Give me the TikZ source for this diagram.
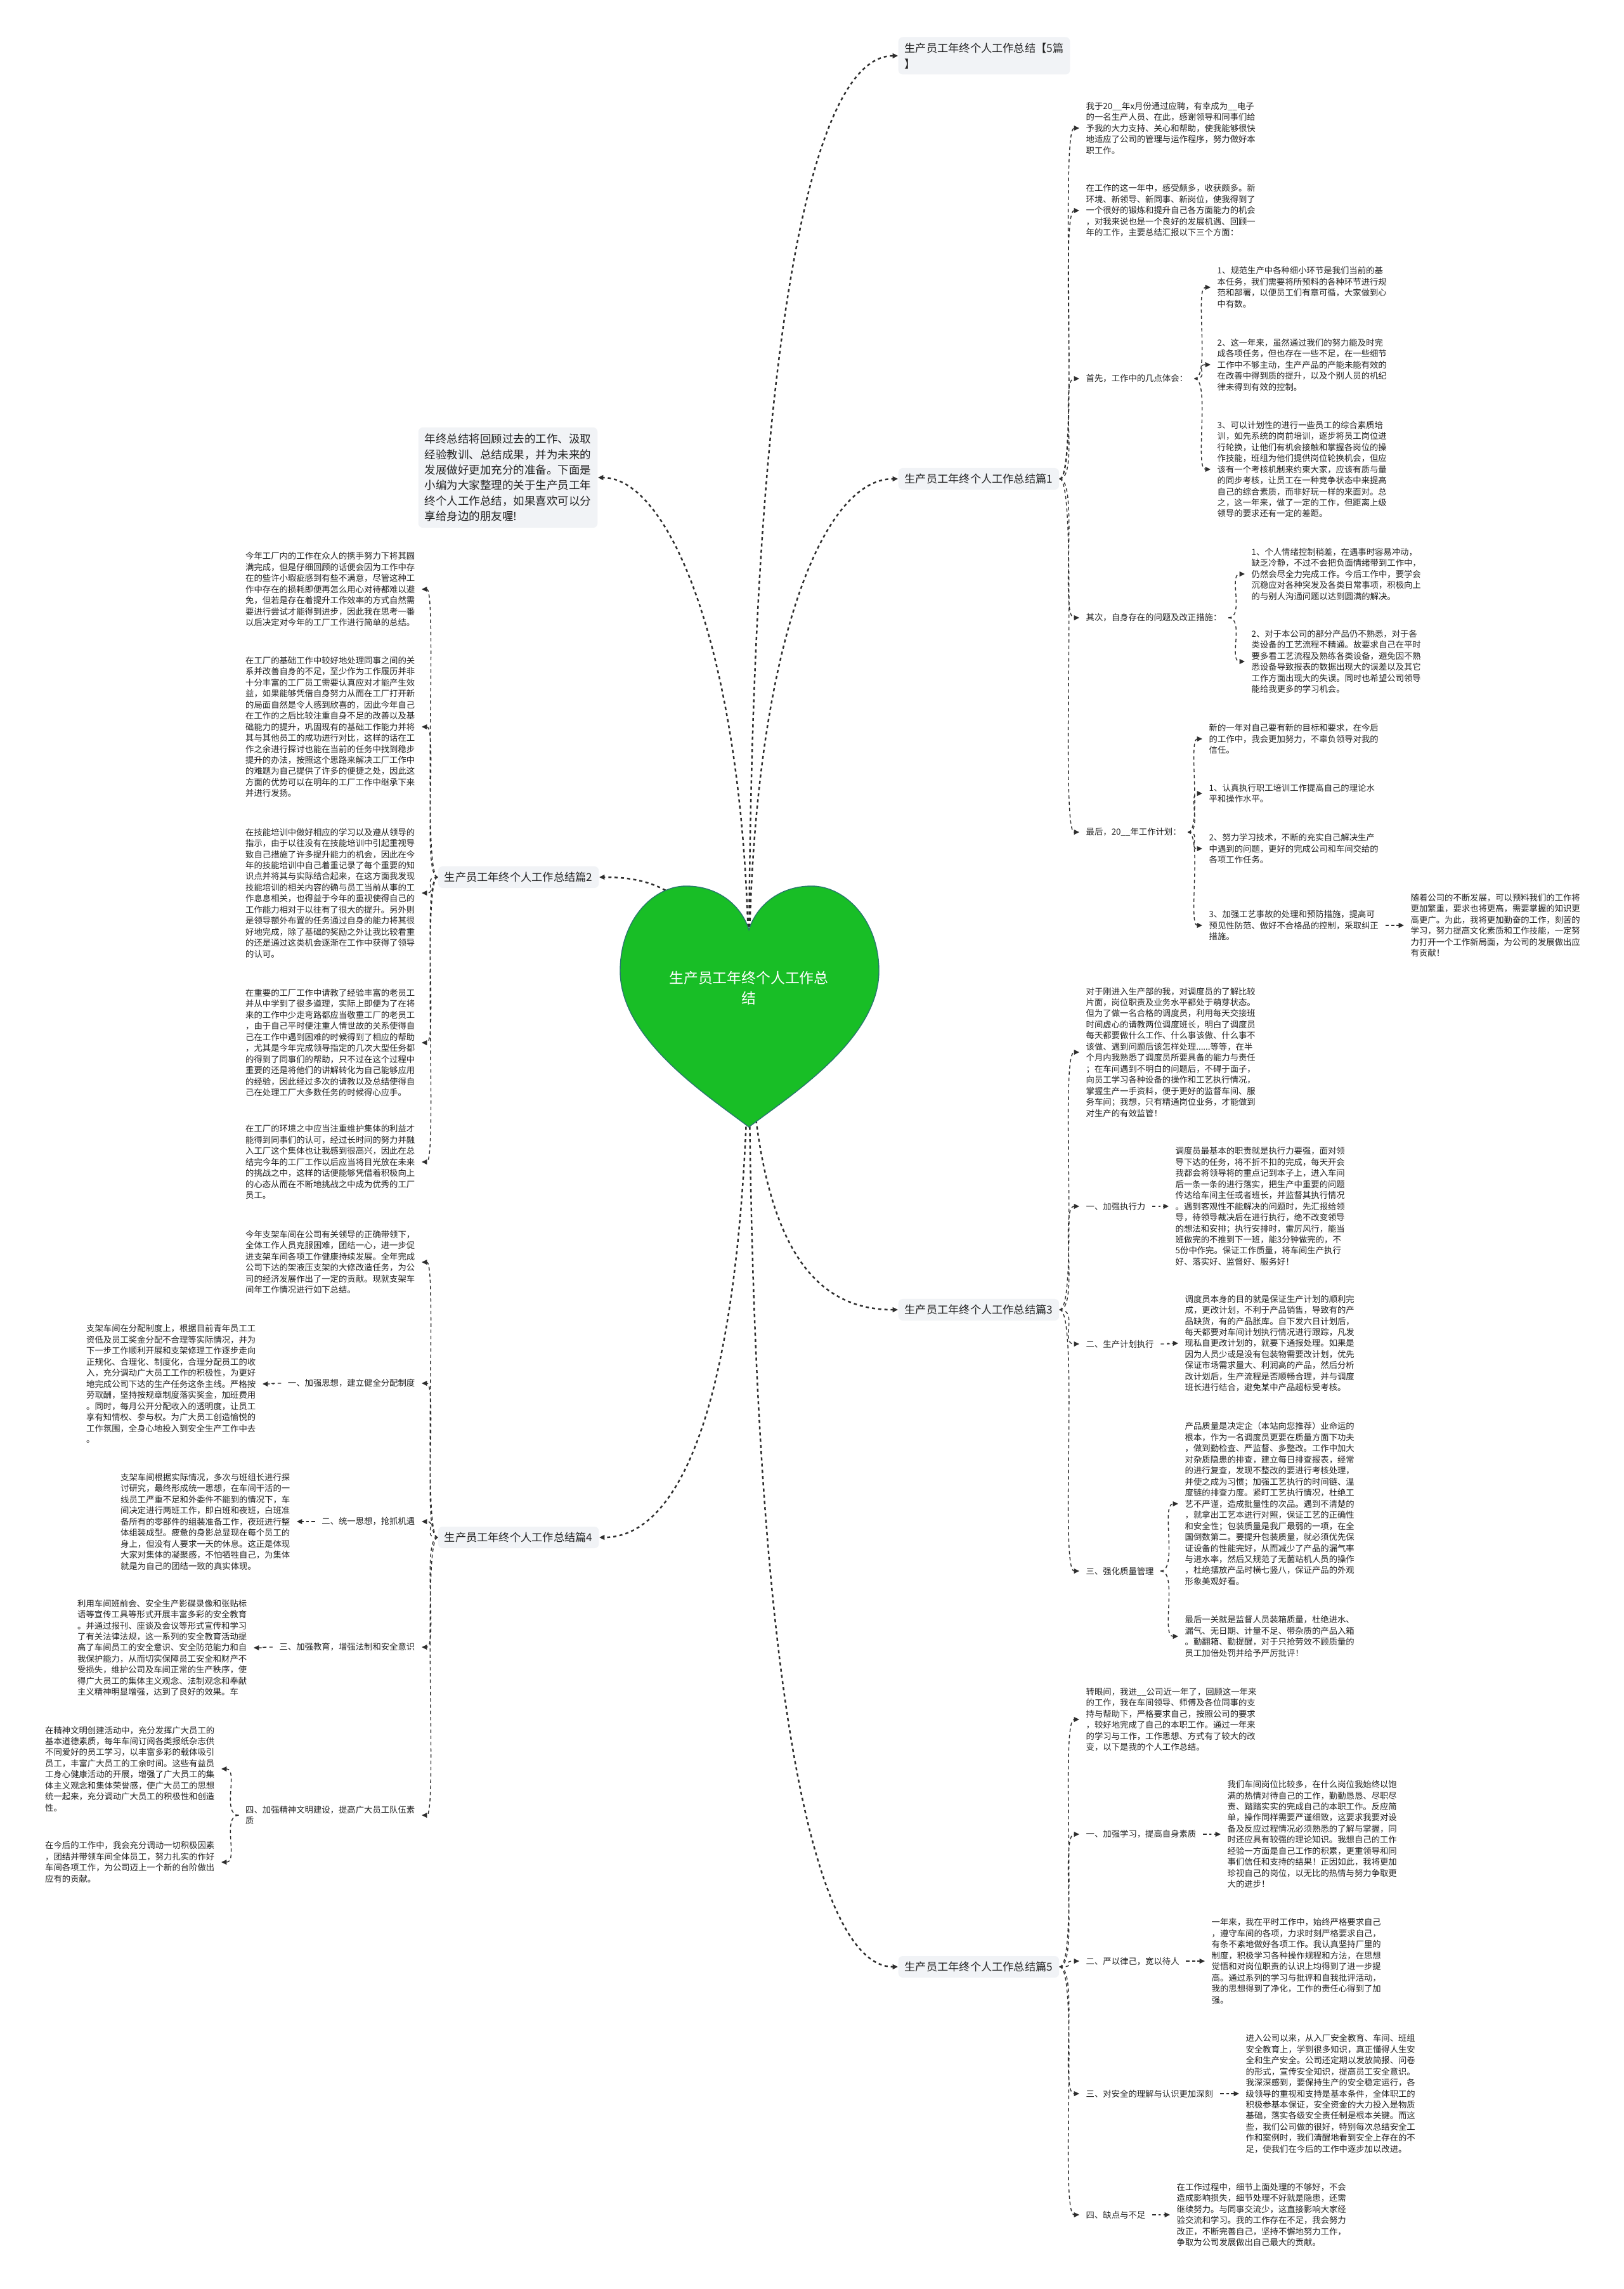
\documentclass[tikz,border=0pt]{standalone}
\usepackage{fontspec}
\newfontfamily\cjk{Noto Sans CJK SC}
\usetikzlibrary{arrows.meta}
\definecolor{inkgray}{RGB}{34,34,34}
\definecolor{linkgray}{RGB}{45,45,45}
\definecolor{labelgray}{RGB}{241,243,246}
\definecolor{heartgreen}{RGB}{24,190,38}
\definecolor{heartedge}{RGB}{40,120,110}

\begin{document}
\begin{tikzpicture}[
  mmleaf/.style={font=\cjk\fontsize{3.8}{4.97}\selectfont, text=inkgray, align=left, inner xsep=0.10cm, inner ysep=0.02cm},
  mmbranch/.style={font=\cjk\fontsize{4.9}{7.1}\selectfont, text=inkgray, fill=labelgray, rounded corners=2pt, align=left, inner xsep=0.10cm, inner ysep=0.09cm},
  mmintro/.style={mmbranch, font=\cjk\fontsize{4.98}{6.94}\selectfont, inner ysep=0.10cm},
  mmlink/.style={draw=linkgray, line width=0.4pt, dash pattern=on 1.5pt off 1.3pt, -{Triangle[length=2.4pt, width=2.2pt]}},
  mmroot/.style={mmlink, line width=0.7pt, dash pattern=on 1.4pt off 1.4pt}
]
\path[fill=white, use as bounding box] (0,0) rectangle (25.60,-36.09);

%--------------------------------------------------------------
% 分支标签
%--------------------------------------------------------------
\node[mmbranch, anchor=west] (b0) at (14.16,-0.88) {生产员工年终个人工作总结【5篇\\】};
\node[mmbranch, anchor=west] (b1) at (14.16,-7.55) {生产员工年终个人工作总结篇1};
\node[mmbranch, anchor=east] (b2) at (9.45,-13.83) {生产员工年终个人工作总结篇2};
\node[mmbranch, anchor=west] (b3) at (14.16,-20.65) {生产员工年终个人工作总结篇3};
\node[mmbranch, anchor=east] (b4) at (9.45,-24.24) {生产员工年终个人工作总结篇4};
\node[mmbranch, anchor=west] (b5) at (14.16,-31.01) {生产员工年终个人工作总结篇5};

\node[mmintro, anchor=east] (intro) at (9.43,-7.53)
  {年终总结将回顾过去的工作、汲取\\经验教训、总结成果，并为未来的\\发展做好更加充分的准备。下面是\\小编为大家整理的关于生产员工年\\终个人工作总结，如果喜欢可以分\\享给身边的朋友喔!};

%--------------------------------------------------------------
% 篇1
%--------------------------------------------------------------
\node[mmleaf, anchor=west] (p1a) at (17.02,-2.02)
  {我于20\_\_年x月份通过应聘，有幸成为\_\_电子\\的一名生产人员、在此，感谢领导和同事们给\\予我的大力支持、关心和帮助，使我能够很快\\地适应了公司的管理与运作程序，努力做好本\\职工作。};
\node[mmleaf, anchor=west] (p1b) at (17.02,-3.32)
  {在工作的这一年中，感受颇多，收获颇多。新\\环境、新领导、新同事、新岗位，使我得到了\\一个很好的锻炼和提升自己各方面能力的机会\\，对我来说也是一个良好的发展机遇、回顾一\\年的工作，主要总结汇报以下三个方面：};
\node[mmleaf, anchor=west] (p1c) at (17.02,-5.97) {首先，工作中的几点体会：};
\node[mmleaf, anchor=west] (p1c1) at (19.09,-4.53)
  {1、规范生产中各种细小环节是我们当前的基\\本任务，我们需要将所预料的各种环节进行规\\范和部署，以便员工们有章可循，大家做到心\\中有数。};
\node[mmleaf, anchor=west] (p1c2) at (19.09,-5.75)
  {2、这一年来，虽然通过我们的努力能及时完\\成各项任务，但也存在一些不足，在一些细节\\工作中不够主动，生产产品的产能未能有效的\\在改善中得到质的提升，以及个别人员的机纪\\律未得到有效的控制。};
\node[mmleaf, anchor=west] (p1c3) at (19.09,-7.40)
  {3、可以计划性的进行一些员工的综合素质培\\训，如先系统的岗前培训，逐步将员工岗位进\\行轮换，让他们有机会接触和掌握各岗位的操\\作技能，班组为他们提供岗位轮换机会，但应\\该有一个考核机制来约束大家，应该有质与量\\的同步考核，让员工在一种竞争状态中来提高\\自己的综合素质，而非好玩一样的来面对。总\\之，这一年来，做了一定的工作，但距离上级\\领导的要求还有一定的差距。};
\node[mmleaf, anchor=west] (p1d) at (17.02,-9.74) {其次，自身存在的问题及改正措施：};
\node[mmleaf, anchor=west] (p1d1) at (19.63,-9.05)
  {1、个人情绪控制稍差，在遇事时容易冲动，\\缺乏冷静，不过不会把负面情绪带到工作中，\\仍然会尽全力完成工作。今后工作中，要学会\\沉稳应对各种突发及各类日常事项，积极向上\\的与别人沟通问题以达到圆满的解决。};
\node[mmleaf, anchor=west] (p1d2) at (19.63,-10.43)
  {2、对于本公司的部分产品仍不熟悉，对于各\\类设备的工艺流程不精通。故要求自己在平时\\要多看工艺流程及熟练各类设备，避免因不熟\\悉设备导致报表的数据出现大的误差以及其它\\工作方面出现大的失误。同时也希望公司领导\\能给我更多的学习机会。};
\node[mmleaf, anchor=west] (p1e) at (17.02,-13.12) {最后，20\_\_年工作计划：};
\node[mmleaf, anchor=west] (p1e1) at (18.96,-11.65)
  {新的一年对自己要有新的目标和要求，在今后\\的工作中，我会更加努力，不辜负领导对我的\\信任。};
\node[mmleaf, anchor=west] (p1e2) at (18.96,-12.51)
  {1、认真执行职工培训工作提高自己的理论水\\平和操作水平。};
\node[mmleaf, anchor=west] (p1e3) at (18.96,-13.38)
  {2、努力学习技术，不断的充实自己解决生产\\中遇到的问题，更好的完成公司和车间交给的\\各项工作任务。};
\node[mmleaf, anchor=west] (p1e4) at (18.96,-14.59)
  {3、加强工艺事故的处理和预防措施，提高可\\预见性防范、做好不合格品的控制，采取纠正\\措施。};
\node[mmleaf, anchor=west] (p1e4a) at (22.14,-14.59)
  {随着公司的不断发展，可以预料我们的工作将\\更加繁重，要求也将更高，需要掌握的知识更\\高更广。为此，我将更加勤奋的工作，刻苦的\\学习，努力提高文化素质和工作技能，一定努\\力打开一个工作新局面，为公司的发展做出应\\有贡献！};

%--------------------------------------------------------------
% 篇2
%--------------------------------------------------------------
\node[mmleaf, anchor=east] (p2a) at (6.65,-9.29)
  {今年工厂内的工作在众人的携手努力下将其圆\\满完成，但是仔细回顾的话便会因为工作中存\\在的些许小瑕疵感到有些不满意，尽管这种工\\作中存在的损耗即便再怎么用心对待都难以避\\免，但若是存在着提升工作效率的方式自然需\\要进行尝试才能得到进步，因此我在思考一番\\以后决定对今年的工厂工作进行简单的总结。};
\node[mmleaf, anchor=east] (p2b) at (6.65,-11.46)
  {在工厂的基础工作中较好地处理同事之间的关\\系并改善自身的不足，至少作为工作履历并非\\十分丰富的工厂员工需要认真应对才能产生效\\益，如果能够凭借自身努力从而在工厂打开新\\的局面自然是令人感到欣喜的，因此今年自己\\在工作的之后比较注重自身不足的改善以及基\\础能力的提升，巩固现有的基础工作能力并将\\其与其他员工的成功进行对比，这样的话在工\\作之余进行探讨也能在当前的任务中找到稳步\\提升的办法，按照这个思路来解决工厂工作中\\的难题为自己提供了许多的便捷之处，因此这\\方面的优势可以在明年的工厂工作中继承下来\\并进行发扬。};
\node[mmleaf, anchor=east] (p2c) at (6.65,-14.08)
  {在技能培训中做好相应的学习以及遵从领导的\\指示，由于以往没有在技能培训中引起重视导\\致自己措施了许多提升能力的机会，因此在今\\年的技能培训中自己着重记录了每个重要的知\\识点并将其与实际结合起来，在这方面我发现\\技能培训的相关内容的确与员工当前从事的工\\作息息相关，也得益于今年的重视使得自己的\\工作能力相对于以往有了很大的提升。另外则\\是领导额外布置的任务通过自身的能力将其很\\好地完成，除了基础的奖励之外让我比较看重\\的还是通过这类机会逐渐在工作中获得了领导\\的认可。};
\node[mmleaf, anchor=east] (p2d) at (6.65,-16.44)
  {在重要的工厂工作中请教了经验丰富的老员工\\并从中学到了很多道理，实际上即便为了在将\\来的工作中少走弯路都应当敬重工厂的老员工\\，由于自己平时便注重人情世故的关系使得自\\己在工作中遇到困难的时候得到了相应的帮助\\，尤其是今年完成领导指定的几次大型任务都\\的得到了同事们的帮助，只不过在这个过程中\\重要的还是将他们的讲解转化为自己能够应用\\的经验，因此经过多次的请教以及总结使得自\\己在处理工厂大多数任务的时候得心应手。};
\node[mmleaf, anchor=east] (p2e) at (6.65,-18.32)
  {在工厂的环境之中应当注重维护集体的利益才\\能得到同事们的认可，经过长时间的努力并融\\入工厂这个集体也让我感到很高兴，因此在总\\结完今年的工厂工作以后应当将目光放在未来\\的挑战之中，这样的话便能够凭借着积极向上\\的心态从而在不断地挑战之中成为优秀的工厂\\员工。};

%--------------------------------------------------------------
% 篇3
%--------------------------------------------------------------
\node[mmleaf, anchor=west] (p3a) at (17.02,-16.59)
  {对于刚进入生产部的我，对调度员的了解比较\\片面，岗位职责及业务水平都处于萌芽状态。\\但为了做一名合格的调度员，利用每天交接班\\时间虚心的请教两位调度班长，明白了调度员\\每天都要做什么工作、什么事该做、什么事不\\该做、遇到问题后该怎样处理......等等，在半\\个月内我熟悉了调度员所要具备的能力与责任\\；在车间遇到不明白的问题后，不碍于面子，\\向员工学习各种设备的操作和工艺执行情况，\\掌握生产一手资料，便于更好的监督车间、服\\务车间；我想，只有精通岗位业务，才能做到\\对生产的有效监管！};
\node[mmleaf, anchor=west] (p3b) at (17.02,-19.02) {一、加强执行力};
\node[mmleaf, anchor=west] (p3b1) at (18.43,-19.02)
  {调度员最基本的职责就是执行力要强，面对领\\导下达的任务，将不折不扣的完成，每天开会\\我都会将领导将的重点记到本子上，进入车间\\后一条一条的进行落实，把生产中重要的问题\\传达给车间主任或者班长，并监督其执行情况\\。遇到客观性不能解决的问题时，先汇报给领\\导，待领导裁决后在进行执行，绝不改变领导\\的想法和安排；执行安排时，雷厉风行，能当\\班做完的不推到下一班，能3分钟做完的，不\\5份中作完。保证工作质量，将车间生产执行\\好、落实好、监督好、服务好！};
\node[mmleaf, anchor=west] (p3c) at (17.02,-21.19) {二、生产计划执行};
\node[mmleaf, anchor=west] (p3c1) at (18.58,-21.18)
  {调度员本身的目的就是保证生产计划的顺利完\\成，更改计划，不利于产品销售，导致有的产\\品缺货，有的产品胀库。自下发六日计划后，\\每天都要对车间计划执行情况进行跟踪，凡发\\现私自更改计划的，就要下通报处理。如果是\\因为人员少或是没有包装物需要改计划，优先\\保证市场需求量大、利润高的产品，然后分析\\改计划后，生产流程是否顺畅合理，并与调度\\班长进行结合，避免某中产品超标受考核。};
\node[mmleaf, anchor=west] (p3d) at (17.02,-24.77) {三、强化质量管理};
\node[mmleaf, anchor=west] (p3d1) at (18.58,-23.71)
  {产品质量是决定企（本站向您推荐）业命运的\\根本，作为一名调度员更要在质量方面下功夫\\，做到勤检查、严监督、多整改。工作中加大\\对杂质隐患的排查，建立每日排查报表，经常\\的进行复查，发现不整改的要进行考核处理，\\并使之成为习惯；加强工艺执行的时间链、温\\度链的排查力度。紧盯工艺执行情况，杜绝工\\艺不严谨，造成批量性的次品。遇到不清楚的\\，就拿出工艺本进行对照，保证工艺的正确性\\和安全性；包装质量是我厂最弱的一项，在全\\国倒数第二。要提升包装质量，就必须优先保\\证设备的性能完好，从而减少了产品的漏气率\\与进水率，然后又规范了无菌站机人员的操作\\，杜绝摆放产品时横七竖八，保证产品的外观\\形象美观好看。};
\node[mmleaf, anchor=west] (p3d2) at (18.58,-25.80)
  {最后一关就是监督人员装箱质量，杜绝进水、\\漏气、无日期、计量不足、带杂质的产品入箱\\。勤翻箱、勤提醒，对于只抢劳效不顾质量的\\员工加倍处罚并给予严厉批评！};

%--------------------------------------------------------------
% 篇4
%--------------------------------------------------------------
\node[mmleaf, anchor=east] (p4a) at (6.65,-19.90)
  {今年支架车间在公司有关领导的正确带领下，\\全体工作人员克服困难，团结一心，进一步促\\进支架车间各项工作健康持续发展。全年完成\\公司下达的架液压支架的大修改造任务，为公\\司的经济发展作出了一定的贡献。现就支架车\\间年工作情况进行如下总结。};
\node[mmleaf, anchor=east] (p4b) at (6.65,-21.81) {一、加强思想，建立健全分配制度};
\node[mmleaf, anchor=east] (p4b1) at (4.14,-21.82)
  {支架车间在分配制度上，根据目前青年员工工\\资低及员工奖金分配不合理等实际情况，并为\\下一步工作顺利开展和支架修理工作逐步走向\\正规化、合理化、制度化，合理分配员工的收\\入，充分调动广大员工工作的积极性，为更好\\地完成公司下达的生产任务这条主线。严格按\\劳取酬，坚持按规章制度落实奖金，加班费用\\。同时，每月公开分配收入的透明度，让员工\\享有知情权、参与权。为广大员工创造愉悦的\\工作氛围，全身心地投入到安全生产工作中去\\。};
\node[mmleaf, anchor=east] (p4c) at (6.65,-23.99) {二、统一思想，抢抓机遇};
\node[mmleaf, anchor=east] (p4c1) at (4.68,-23.99)
  {支架车间根据实际情况，多次与班组长进行探\\讨研究，最终形成统一思想，在车间干活的一\\线员工严重不足和外委件不能到的情况下，车\\间决定进行两班工作，即白班和夜班，白班准\\备所有的零部件的组装准备工作，夜班进行整\\体组装成型。疲惫的身影总显现在每个员工的\\身上，但没有人要求一天的休息。这正是体现\\大家对集体的凝聚感，不怕牺牲自己，为集体\\就是为自己的团结一致的真实体现。};
\node[mmleaf, anchor=east] (p4d) at (6.65,-25.97) {三、加强教育，增强法制和安全意识};
\node[mmleaf, anchor=east] (p4d1) at (4.00,-25.98)
  {利用车间班前会、安全生产影碟录像和张贴标\\语等宣传工具等形式开展丰富多彩的安全教育\\。并通过报刊、座谈及会议等形式宣传和学习\\了有关法律法规，这一系列的安全教育活动提\\高了车间员工的安全意识、安全防范能力和自\\我保护能力，从而切实保障员工安全和财产不\\受损失，维护公司及车间正常的生产秩序，使\\得广大员工的集体主义观念、法制观念和奉献\\主义精神明显增强，达到了良好的效果。车};
\node[mmleaf, anchor=east] (p4e) at (6.65,-28.62) {四、加强精神文明建设，提高广大员工队伍素\\质};
\node[mmleaf, anchor=east] (p4e1) at (3.49,-27.89)
  {在精神文明创建活动中，充分发挥广大员工的\\基本道德素质，每年车间订阅各类报纸杂志供\\不同爱好的员工学习，以丰富多彩的载体吸引\\员工，丰富广大员工的工余时间。这些有益员\\工身心健康活动的开展，增强了广大员工的集\\体主义观念和集体荣誉感，使广大员工的思想\\统一起来，充分调动广大员工的积极性和创造\\性。};
\node[mmleaf, anchor=east] (p4e2) at (3.49,-29.36)
  {在今后的工作中，我会充分调动一切积极因素\\，团结并带领车间全体员工，努力扎实的作好\\车间各项工作，为公司迈上一个新的台阶做出\\应有的贡献。};

%--------------------------------------------------------------
% 篇5
%--------------------------------------------------------------
\node[mmleaf, anchor=west] (p5a) at (17.02,-27.11)
  {转眼间，我进\_\_公司近一年了，回顾这一年来\\的工作，我在车间领导、师傅及各位同事的支\\持与帮助下，严格要求自己，按照公司的要求\\，较好地完成了自己的本职工作。通过一年来\\的学习与工作，工作思想、方式有了较大的改\\变，以下是我的个人工作总结。};
\node[mmleaf, anchor=west] (p5b) at (17.02,-28.92) {一、加强学习，提高自身素质};
\node[mmleaf, anchor=west] (p5b1) at (19.25,-28.92)
  {我们车间岗位比较多，在什么岗位我始终以饱\\满的热情对待自己的工作，勤勤恳恳、尽职尽\\责、踏踏实实的完成自己的本职工作。反应简\\单，操作同样需要严谨细致，这要求我要对设\\备及反应过程情况必须熟悉的了解与掌握，同\\时还应具有较强的理论知识。我想自己的工作\\经验一方面是自己工作的积累，更重领导和同\\事们信任和支持的结果！正因如此，我将更加\\珍视自己的岗位，以无比的热情与努力争取更\\大的进步！};
\node[mmleaf, anchor=west] (p5c) at (17.02,-30.92) {二、严以律己，宽以待人};
\node[mmleaf, anchor=west] (p5c1) at (19.00,-30.92)
  {一年来，我在平时工作中，始终严格要求自己\\，遵守车间的各项，力求时刻严格要求自己，\\有条不紊地做好各项工作。我认真坚持厂里的\\制度，积极学习各种操作规程和方法，在思想\\觉悟和对岗位职责的认识上均得到了进一步提\\高。通过系列的学习与批评和自我批评活动，\\我的思想得到了净化，工作的责任心得到了加\\强。};
\node[mmleaf, anchor=west] (p5d) at (17.02,-33.01) {三、对安全的理解与认识更加深刻};
\node[mmleaf, anchor=west] (p5d1) at (19.54,-33.01)
  {进入公司以来，从入厂安全教育、车间、班组\\安全教育上，学到很多知识，真正懂得人生安\\全和生产安全。公司还定期以发放简报、问卷\\的形式，宣传安全知识，提高员工安全意识。\\我深深感到，要保持生产的安全稳定运行，各\\级领导的重视和支持是基本条件，全体职工的\\积极参基本保证，安全资金的大力投入是物质\\基础，落实各级安全责任制是根本关键。而这\\些，我们公司做的很好，特别每次总结安全工\\作和案例时，我们清醒地看到安全上存在的不\\足，使我们在今后的工作中逐步加以改进。};
\node[mmleaf, anchor=west] (p5e) at (17.02,-34.92) {四、缺点与不足};
\node[mmleaf, anchor=west] (p5e1) at (18.45,-34.92)
  {在工作过程中，细节上面处理的不够好，不会\\造成影响损失，细节处理不好就是隐患，还需\\继续努力。与同事交流少，这直接影响大家经\\验交流和学习。我的工作存在不足，我会努力\\改正，不断完善自己，坚持不懈地努力工作，\\争取为公司发展做出自己最大的贡献。};

%--------------------------------------------------------------
% 连线
%--------------------------------------------------------------
\foreach \p/\c in {b1/p1a, b1/p1b, b1/p1c, b1/p1d, b1/p1e, p1c/p1c1, p1c/p1c2, p1c/p1c3,
    p1d/p1d1, p1d/p1d2, p1e/p1e1, p1e/p1e2, p1e/p1e3, p1e/p1e4, p1e4/p1e4a,
    b3/p3a, b3/p3b, b3/p3c, b3/p3d, p3b/p3b1, p3c/p3c1, p3d/p3d1, p3d/p3d2,
    b5/p5a, b5/p5b, b5/p5c, b5/p5d, b5/p5e, p5b/p5b1, p5c/p5c1, p5d/p5d1, p5e/p5e1}{
  \draw[mmlink] (\p.east) .. controls (\c.west |- \p.east) and (\p.east |- \c.west) .. (\c.west);
}
\foreach \p/\c in {b2/p2a, b2/p2b, b2/p2c, b2/p2d, b2/p2e,
    b4/p4a, b4/p4b, b4/p4c, b4/p4d, b4/p4e, p4b/p4b1, p4c/p4c1, p4d/p4d1, p4e/p4e1, p4e/p4e2}{
  \draw[mmlink] (\p.west) .. controls (\c.east |- \p.west) and (\p.west |- \c.east) .. (\c.east);
}

% 中心到各分支
\coordinate (hub) at (11.81,-15.60);
\draw[mmroot] (hub) .. controls (11.81,-6.00) and (12.70,-0.88) .. (b0.west);
\draw[mmroot] (hub) .. controls (11.81,-10.50) and (12.90,-7.55) .. (b1.west);
\draw[mmroot] (hub) .. controls (11.81,-10.50) and (10.60,-7.53) .. (intro.east);
\draw[mmroot] (hub) .. controls (11.00,-14.20) and (10.50,-13.83) .. (b2.east);
\draw[mmroot] (hub) .. controls (11.81,-19.60) and (12.80,-20.65) .. (b3.west);
\draw[mmroot] (hub) .. controls (11.81,-22.50) and (10.60,-24.24) .. (b4.east);
\draw[mmroot] (hub) .. controls (11.81,-27.00) and (12.90,-31.01) .. (b5.west);

%--------------------------------------------------------------
% 中心主题（心形）
%--------------------------------------------------------------
\filldraw[fill=heartgreen, draw=heartedge, line width=0.4pt]
  (11.81,-17.77) .. controls (11.20,-17.30) and (9.78,-16.40) .. (9.78,-15.31)
  .. controls (9.78,-14.50) and (10.30,-13.97) .. (10.82,-13.97)
  .. controls (11.35,-13.97) and (11.70,-14.30) .. (11.81,-14.66)
  .. controls (11.92,-14.30) and (12.27,-13.97) .. (12.80,-13.97)
  .. controls (13.32,-13.97) and (13.86,-14.50) .. (13.86,-15.31)
  .. controls (13.86,-16.40) and (12.42,-17.30) .. (11.81,-17.77) -- cycle;
\node[font=\cjk\fontsize{6.5}{9.1}\selectfont, text=white, align=center] (root) at (11.81,-15.58)
  {生产员工年终个人工作总\\结};

\end{tikzpicture}
\end{document}
